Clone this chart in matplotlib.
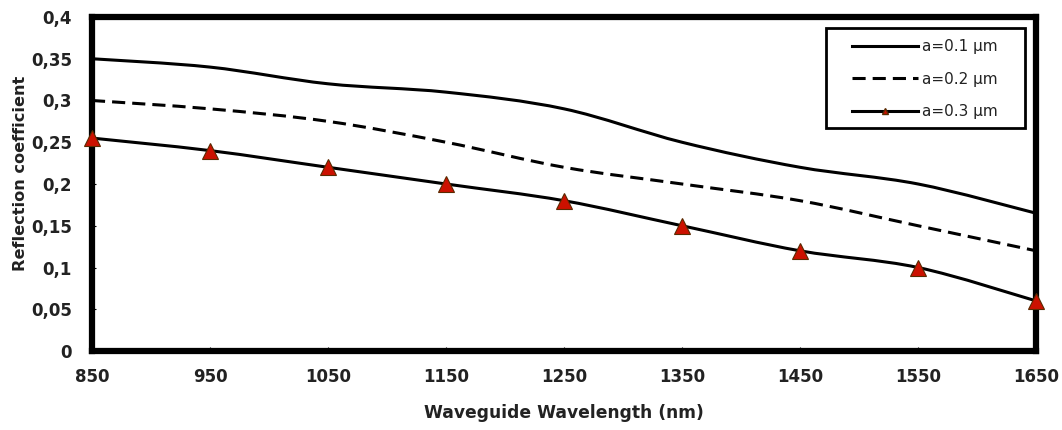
import numpy as np
import matplotlib.pyplot as plt
from matplotlib.ticker import FuncFormatter
from matplotlib.path import Path
from matplotlib.patches import PathPatch, Rectangle
from matplotlib.lines import Line2D

plt.rcParams['font.family'] = ['DejaVu Sans']

# data
wavelength = [850, 950, 1050, 1150, 1250, 1350, 1450, 1550, 1650]
r_a01 = [0.35, 0.34, 0.32, 0.31, 0.29, 0.25, 0.22, 0.20, 0.165]
r_a02 = [0.30, 0.29, 0.275, 0.25, 0.22, 0.20, 0.18, 0.15, 0.12]
r_a03 = [0.255, 0.24, 0.22, 0.20, 0.18, 0.15, 0.12, 0.10, 0.06]
labels = ['a=0.1 \u00b5m', 'a=0.2 \u00b5m', 'a=0.3 \u00b5m']
x_ticks = [850, 950, 1050, 1150, 1250, 1350, 1450, 1550, 1650]
y_ticks = [0, 0.05, 0.1, 0.15, 0.2, 0.25, 0.3, 0.35, 0.4]


def smooth_path(x, y):
    # excel-like smoothed line: catmull-rom segments as cubic beziers
    p = np.column_stack([x, y]).astype(float)
    pts = [p[0]]
    codes = [Path.MOVETO]
    n = len(p)
    for i in range(n - 1):
        p0 = p[max(i - 1, 0)]
        p1, p2 = p[i], p[i + 1]
        p3 = p[min(i + 2, n - 1)]
        pts += [p1 + (p2 - p0) / 6, p2 - (p3 - p1) / 6, p2]
        codes += [Path.CURVE4] * 3
    return Path(pts, codes)


fig = plt.figure(figsize=(10.62, 4.30), dpi=100)
ax = fig.add_axes([0.0866, 0.1837, 0.889, 0.7768])

lw = 2.2
dash = (0, (4.3, 2.3))
ax.add_patch(PathPatch(smooth_path(wavelength, r_a01), fill=False, ec='black', lw=lw))
ax.add_patch(PathPatch(smooth_path(wavelength, r_a02), fill=False, ec='black', lw=lw, ls=dash))
ax.add_patch(PathPatch(smooth_path(wavelength, r_a03), fill=False, ec='black', lw=lw))
ax.plot(wavelength, r_a03, ls='none', marker='^', ms=12,
        mfc='#cc1100', mec='#5a2a00', mew=0.8, clip_on=False, zorder=3)

ax.set_xlim(850, 1650)
ax.set_ylim(0, 0.4)
ax.set_xticks(x_ticks)
ax.set_yticks(y_ticks)


def comma(v, pos):
    s = ('%.2f' % v).rstrip('0').rstrip('.')
    return s.replace('.', ',')


ax.yaxis.set_major_formatter(FuncFormatter(comma))

ax.tick_params(direction='in', length=3, width=0.8, labelsize=12, labelcolor='#222222')
ax.tick_params(axis='x', pad=12)
ax.tick_params(axis='y', pad=14.5)
for lab in ax.get_xticklabels() + ax.get_yticklabels():
    lab.set_fontweight('bold')
for sp in ax.spines.values():
    sp.set_linewidth(4.5)

ax.set_xlabel('Waveguide Wavelength (nm)', fontsize=12.3, fontweight='bold',
              labelpad=13, color='#222222')
ax.set_ylabel('Reflection coefficient', fontsize=11.6, fontweight='bold', color='#222222')
ax.yaxis.set_label_coords(-0.068, 0.533)

handles = [
    Line2D([], [], color='black', lw=lw),
    Line2D([], [], color='black', lw=lw, ls=dash),
    Line2D([], [], color='black', lw=lw, marker='^', ms=5, mfc='#cc1100', mec='#5a2a00'),
]
leg = ax.legend(handles, labels, loc='upper left', bbox_to_anchor=(0.805, 0.934),
                fontsize=11, frameon=False, handlelength=4.3,
                handletextpad=0.3, borderpad=0, labelspacing=1.15, borderaxespad=0)
for t in leg.get_texts():
    t.set_color('#222222')
# legend box, drawn wider than the entries like in the original
ax.add_patch(Rectangle((0.7775, 0.6677), 0.2108, 0.2993, transform=ax.transAxes,
                       fill=False, ec='black', lw=2, zorder=4))

fig.savefig('out.png', dpi=100)
